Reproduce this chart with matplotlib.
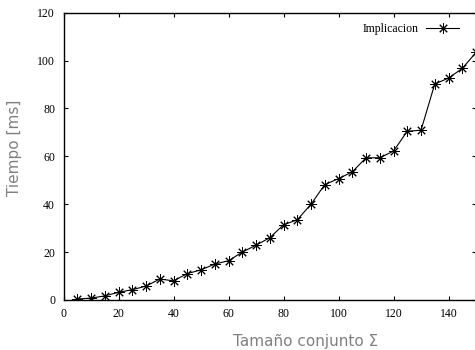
import matplotlib
matplotlib.use("Agg")
import matplotlib.pyplot as plt

# Data
sizes = [5, 10, 15, 20, 25, 30, 35, 40, 45, 50, 55, 60, 65, 70, 75,
         80, 85, 90, 95, 100, 105, 110, 115, 120, 125, 130, 135, 140, 145, 150]
times_ms = [0.4, 0.8, 1.7, 3.2, 4.3, 5.8, 8.75, 8.0, 11.0, 12.6, 15.0, 16.4, 20.0, 22.9, 26.0,
            31.4, 33.5, 40.0, 48.2, 50.7, 53.5, 59.4, 59.4, 62.2, 70.5, 70.9, 90.2, 92.7, 96.7, 103.4]
series_name = "Implicacion"
x_ticks = [0, 20, 40, 60, 80, 100, 120, 140]
y_ticks = [0, 20, 40, 60, 80, 100, 120]

fig = plt.figure(figsize=[4.75, 3.5], dpi=100)
ax = fig.add_axes([63.5 / 475, 1 - 300 / 350, (476 - 63.5) / 475, (300 - 12.7) / 350])

ax.plot(sizes, times_ms, color="black", linewidth=0.8,
        marker=(8, 2, 0), markersize=7.5, markeredgewidth=0.7, label=series_name)

ax.set_xlim(0, 150)
ax.set_ylim(0, 120)
ax.set_xticks(x_ticks)
ax.set_yticks(y_ticks)
ax.tick_params(direction="in", length=3, width=0.8, top=True, right=True,
               labelsize=8.5, pad=6)
for lab in ax.get_xticklabels() + ax.get_yticklabels():
	lab.set_fontfamily("Liberation Serif")
for sp in ax.spines.values():
	sp.set_linewidth(1.0)

# labels sit off-centre in the original (cropped figure)
ax.set_xlabel("Tamaño conjunto Σ", color="#808080", fontsize=11)
ax.xaxis.set_label_coords(0.588, -0.118)
ax.set_ylabel("Tiempo [ms]", color="#808080", fontsize=11)
ax.yaxis.set_label_coords(-0.10, 0.529)

leg = ax.legend(loc="upper right", bbox_to_anchor=(0.985, 1.0), frameon=False,
                markerfirst=False, handlelength=2.8, handletextpad=0.6,
                prop={"family": "Liberation Serif", "size": 8.5})

fig.savefig("out.png", dpi=100)
